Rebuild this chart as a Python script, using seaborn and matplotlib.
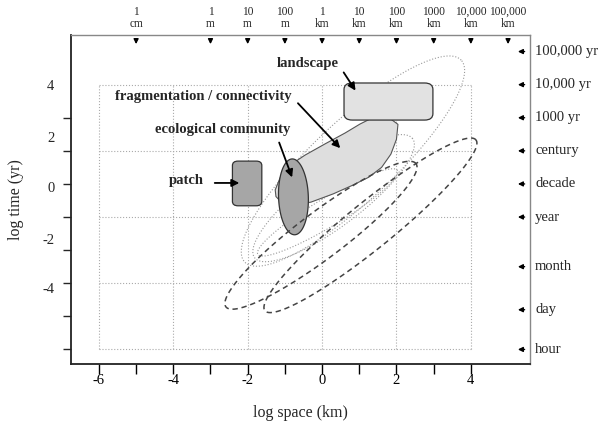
import numpy as np
import pandas as pd
import matplotlib.pyplot as plt
import seaborn as sns
from matplotlib.patches import FancyBboxPatch

sns.set_theme(style='white')
plt.rcParams['font.family'] = ['Liberation Serif', 'DejaVu Serif']

# --- data: x = log10 space (km), y = log10 time (yr) ---
space_pos = [-5, -3, -2, -1, 0, 1, 2, 3, 4, 5]
space_labels = ['1\ncm', '1\nm', '10\nm', '100\nm', '1\nkm', '10\nkm', '100\nkm',
                '1000\nkm', '10,000\nkm', '100,000\nkm']
time_pos = [5, 4, 3, 2, 1, 0, -1.5, -2.8, -4]
time_labels = ['100,000 yr', '10,000 yr', '1000 yr', 'century', 'decade', 'year',
               'month', 'day', 'hour']

# left axis: printed labels sit off the tick marks in the original
ytick_pos = [4, 2.43, 0.91, -0.66, -2.14]
ytick_labels = ['4', '2', '0', '-2', '-4']
ymark_pos = [4, 3, 2, 1, 0, -1, -2, -3, -4]
xtick_pos = [-6, -4, -2, 0, 2, 4]
xminor_pos = [-5, -3, -1, 1, 3]
grid_x = [-6, -4, -2, 0, 2, 4]
grid_y = [-4, -2, 0, 2, 4]

# ellipses: centre x, centre y, semi-major, semi-minor (x units), angle (deg)
dotted_ellipses = [(0.83, 1.69, 3.98, 1.08, 43),
                   (0.31, 0.57, 2.66, 0.75, 37),
                   (0.15, 0.14, 2.19, 0.38, 31)]
dashed_ellipses = [(1.30, -0.25, 3.65, 0.62, 39),
                   (-0.03, -0.55, 3.20, 0.62, 37)]
community = (-0.77, 0.61, 1.02, 0.40, 92)

# rounded boxes: x0, y0, x1, y1
patch_box = (-2.41, 0.34, -1.62, 1.69)
landscape_box = (0.59, 2.93, 2.98, 4.05)

# fragmentation / connectivity band outline
banana_x = [-1.26, -1.13, -0.86, -0.46, 0.08, 0.62, 1.02, 1.34, 1.80, 2.04,
            2.00, 1.85, 1.60, 1.25, 0.80, 0.30, -0.30, -0.80, -1.10, -1.24]
banana_y = [0.82, 1.18, 1.57, 1.87, 2.21, 2.54, 2.81, 2.99, 3.00, 2.80,
            2.35, 1.90, 1.50, 1.20, 0.95, 0.70, 0.45, 0.36, 0.45, 0.62]

# labels: text, text x, text y, arrow tail x, tail y, head x, head y
labels = [('landscape', -0.38, 4.65, 0.54, 4.44, 0.94, 3.75),
          ('fragmentation / connectivity', -3.20, 3.63, -0.70, 3.50, 0.54, 2.02),
          ('ecological community', -2.66, 2.63, -1.18, 2.33, -0.78, 1.12),
          ('patch', -3.66, 1.09, -2.96, 1.03, -2.15, 1.03)]

xlim = (-6.75, 5.59)
ylim = (-4.44, 5.50)

fig = plt.figure(figsize=(6.03, 4.30), dpi=100)
ax = fig.add_axes([71 / 603, 1 - 364 / 430, 459 / 603, 329 / 430])
ax.set_xlim(*xlim)
ax.set_ylim(*ylim)

# px per unit ratio, so ellipses keep their drawn shape
bb = ax.get_position()
YX = (bb.width * 603 / (xlim[1] - xlim[0])) / (bb.height * 430 / (ylim[1] - ylim[0]))


def ellipse_xy(cx, cy, a, b, ang, n=240):
    t = np.linspace(0, 2 * np.pi, n)
    th = np.deg2rad(ang)
    dx = a * np.cos(t) * np.cos(th) - b * np.sin(t) * np.sin(th)
    dy = a * np.cos(t) * np.sin(th) + b * np.sin(t) * np.cos(th)
    return cx + dx, cy + dy * YX


# grid box
ax.vlines(grid_x, grid_y[0], grid_y[-1], colors='#aaaaaa', linestyles=':', lw=0.8, zorder=1)
ax.hlines(grid_y, grid_x[0], grid_x[-1], colors='#aaaaaa', linestyles=':', lw=0.8, zorder=1)

# thin dotted ellipses
for e in dotted_ellipses:
    ex, ey = ellipse_xy(*e)
    d = pd.DataFrame({'x': ex, 'y': ey})
    sns.lineplot(data=d, x='x', y='y', sort=False, estimator=None, ax=ax,
                 color='#999999', lw=0.8, linestyle=':', zorder=2)

# filled shapes
ax.fill(banana_x, banana_y, facecolor='#dedede', edgecolor='#555555', lw=0.8, zorder=3)

x0, y0, x1, y1 = landscape_box
ax.add_patch(FancyBboxPatch((x0, y0), x1 - x0, y1 - y0,
                            boxstyle='round,pad=0,rounding_size=0.22', mutation_aspect=1 / YX,
                            facecolor='#e2e2e2', edgecolor='#333333', lw=0.9, zorder=4))
x0, y0, x1, y1 = patch_box
ax.add_patch(FancyBboxPatch((x0, y0), x1 - x0, y1 - y0,
                            boxstyle='round,pad=0,rounding_size=0.15', mutation_aspect=1 / YX,
                            facecolor='#a6a6a6', edgecolor='#333333', lw=0.9, zorder=4))

cx_, cy_ = ellipse_xy(*community)
ax.fill(cx_, cy_, facecolor='#a6a6a6', edgecolor='#333333', lw=0.9, zorder=5)

# dashed ellipses
for e in dashed_ellipses:
    ex, ey = ellipse_xy(*e)
    d = pd.DataFrame({'x': ex, 'y': ey})
    sns.lineplot(data=d, x='x', y='y', sort=False, estimator=None, ax=ax,
                 color='#444444', lw=1.1, dashes=(3.5, 2.5), zorder=6)

# labelled arrows
for txt, tx, ty, ax0, ay0, hx, hy in labels:
    ax.text(tx, ty, txt, ha='center', va='center', fontsize=10.5, fontweight='bold', zorder=7)
    ax.annotate('', xy=(hx, hy), xytext=(ax0, ay0),
                arrowprops=dict(arrowstyle='-|>', color='black', lw=1.3, mutation_scale=11),
                zorder=7)

# top scale: space units
for p, lab in zip(space_pos, space_labels):
    ax.annotate('', xy=(p, 5.14), xytext=(p, 5.45),
                arrowprops=dict(arrowstyle='-|>', color='black', lw=1.0, mutation_scale=7))
    ax.text(p, 6.02, lab, ha='center', va='center', fontsize=8.3, linespacing=0.95,
            clip_on=False)

# right scale: time units
for p, lab in zip(time_pos, time_labels):
    ax.annotate('', xy=(5.19, p), xytext=(5.52, p),
                arrowprops=dict(arrowstyle='-|>', color='black', lw=1.0, mutation_scale=7))
    ax.text(5.73, p, lab, ha='left', va='center', fontsize=10.5, clip_on=False)

# axes styling
ax.set_xticks(xtick_pos)
ax.set_xticks(xminor_pos, minor=True)
ax.set_xticklabels([str(v) for v in xtick_pos], fontsize=10.5)
ax.tick_params(axis='x', which='both', direction='out', length=7, width=1, pad=0.5,
               bottom=True, colors='black')
ax.set_yticks(ytick_pos)
ax.set_yticklabels(ytick_labels, fontsize=10.5)
ax.set_yticks(ymark_pos, minor=True)
ax.tick_params(axis='y', which='major', length=0, pad=12)
ax.tick_params(axis='y', which='minor', direction='out', length=6, width=1, left=True)
ax.set_xlabel('log space (km)', fontsize=11.5, labelpad=13)
ax.set_ylabel('log time (yr)', fontsize=11.5, labelpad=13)
for s in ['left', 'bottom']:
    ax.spines[s].set_color('#222222')
    ax.spines[s].set_linewidth(1.3)
for s in ['top', 'right']:
    ax.spines[s].set_color('#888888')
    ax.spines[s].set_linewidth(1.0)
ax.grid(False)

fig.savefig('out.png', dpi=100)
